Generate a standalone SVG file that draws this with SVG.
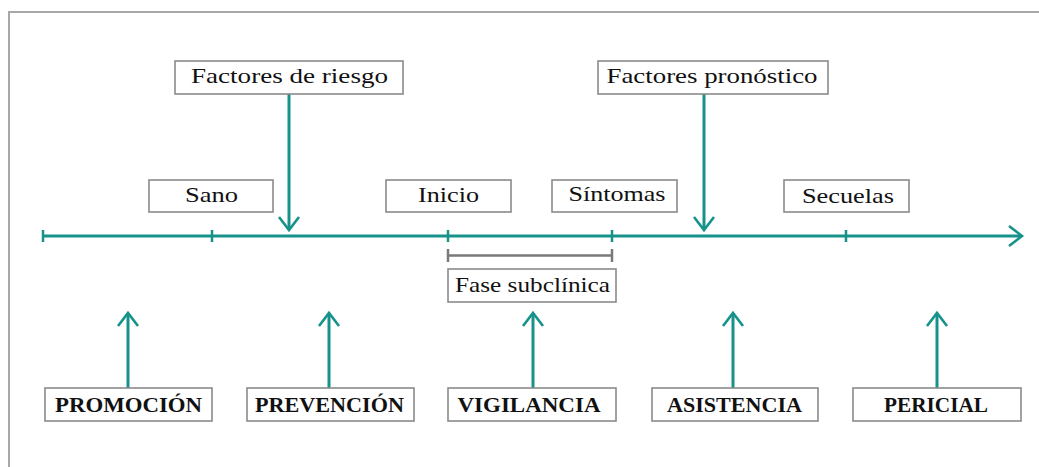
<svg xmlns="http://www.w3.org/2000/svg" width="1039" height="467" viewBox="0 0 1039 467">
<style>
.box{fill:#fff;stroke:#8a8a8a;stroke-width:1.6}
.t{font-family:"Liberation Serif","Times New Roman",serif;font-size:22px;fill:#111;text-anchor:middle}
.b{font-weight:bold}
.line{stroke:#17928b;stroke-width:3;fill:none}
.tick{stroke:#17928b;stroke-width:2.5}
</style>
<defs>
<marker id="ah" markerUnits="userSpaceOnUse" markerWidth="18" markerHeight="26" viewBox="0 -13 18 26" refX="15" refY="0" orient="auto">
<path d="M2,-10 L15,0 L2,10" fill="none" stroke="#17928b" stroke-width="2.6"/>
</marker>
</defs>
<rect width="1039" height="467" fill="#fff"/>
<path d="M9,467 V12 H1039" fill="none" stroke="#a8a8a8" stroke-width="2"/>

<g id="connectors">
<line class="line" x1="43" y1="236" x2="1022" y2="236" marker-end="url(#ah)"/>
<line class="tick" x1="43" y1="230" x2="43" y2="242"/>
<line class="tick" x1="212" y1="230" x2="212" y2="242"/>
<line class="tick" x1="448" y1="230" x2="448" y2="242"/>
<line class="tick" x1="612" y1="230" x2="612" y2="242"/>
<line class="tick" x1="846" y1="230" x2="846" y2="242"/>
<path d="M448,249 V262 M448,255.5 H612 M612,249 V262" fill="none" stroke="#7a7a7a" stroke-width="2.5"/>
<line class="line" x1="289" y1="94" x2="289" y2="230" marker-end="url(#ah)"/>
<line class="line" x1="704" y1="94" x2="704" y2="230" marker-end="url(#ah)"/>
<line class="line" x1="128" y1="388" x2="128" y2="313" marker-end="url(#ah)"/>
<line class="line" x1="329" y1="388" x2="329" y2="313" marker-end="url(#ah)"/>
<line class="line" x1="533" y1="388" x2="533" y2="313" marker-end="url(#ah)"/>
<line class="line" x1="733" y1="388" x2="733" y2="313" marker-end="url(#ah)"/>
<line class="line" x1="937" y1="388" x2="937" y2="313" marker-end="url(#ah)"/>
</g>

<g id="factores-riesgo"><rect class="box" x="175" y="61" width="228" height="33"/><text class="t" x="289.5" y="83" textLength="197" lengthAdjust="spacingAndGlyphs">Factores de riesgo</text></g>
<g id="factores-pronostico"><rect class="box" x="598" y="61" width="230" height="33"/><text class="t" x="712" y="83" textLength="211" lengthAdjust="spacingAndGlyphs">Factores pronóstico</text></g>
<g id="sano"><rect class="box" x="149" y="180" width="124" height="32"/><text class="t" x="211.5" y="202" textLength="53" lengthAdjust="spacingAndGlyphs">Sano</text></g>
<g id="inicio"><rect class="box" x="386" y="180" width="125" height="32"/><text class="t" x="448.5" y="202" textLength="61" lengthAdjust="spacingAndGlyphs">Inicio</text></g>
<g id="sintomas"><rect class="box" x="552" y="180" width="125" height="32"/><text class="t" x="617" y="201" textLength="97" lengthAdjust="spacingAndGlyphs">Síntomas</text></g>
<g id="secuelas"><rect class="box" x="784" y="180" width="125" height="32"/><text class="t" x="848" y="203" textLength="92" lengthAdjust="spacingAndGlyphs">Secuelas</text></g>
<g id="fase-subclinica"><rect class="box" x="448" y="269" width="168" height="33"/><text class="t" x="532.5" y="292" textLength="155" lengthAdjust="spacingAndGlyphs">Fase subclínica</text></g>

<g id="promocion"><rect class="box" x="45" y="388" width="167" height="33"/><text class="t b" x="128.5" y="412" textLength="147" lengthAdjust="spacingAndGlyphs">PROMOCIÓN</text></g>
<g id="prevencion"><rect class="box" x="247" y="388" width="167" height="33"/><text class="t b" x="329.5" y="412" textLength="149" lengthAdjust="spacingAndGlyphs">PREVENCIÓN</text></g>
<g id="vigilancia"><rect class="box" x="448" y="388" width="168" height="33"/><text class="t b" x="529" y="412" textLength="143" lengthAdjust="spacingAndGlyphs">VIGILANCIA</text></g>
<g id="asistencia"><rect class="box" x="652" y="388" width="166" height="33"/><text class="t b" x="734.5" y="412" textLength="135" lengthAdjust="spacingAndGlyphs">ASISTENCIA</text></g>
<g id="pericial"><rect class="box" x="853" y="388" width="168" height="33"/><text class="t b" x="936" y="412" textLength="104" lengthAdjust="spacingAndGlyphs">PERICIAL</text></g>
</svg>
